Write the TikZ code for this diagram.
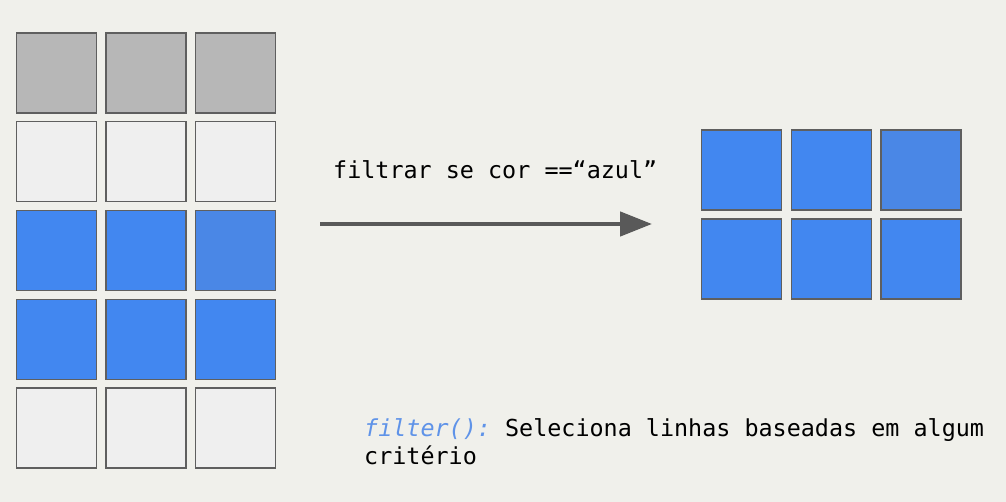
\documentclass[tikz,border=0pt]{standalone}
\usepackage{fontspec}
\setmonofont{DejaVu Sans Mono}
\usetikzlibrary{arrows.meta}
\usetikzlibrary{positioning}

\definecolor{bgcol}{HTML}{F0F0EB}
\definecolor{edgecol}{HTML}{5F5F5F}
\definecolor{cgray}{HTML}{B7B7B7}
\definecolor{clight}{HTML}{EFEFEF}
\definecolor{cblue}{HTML}{4287F0}
\definecolor{cdark}{HTML}{4A87E6}
\definecolor{arrowcol}{HTML}{595959}
\definecolor{fncol}{HTML}{5F93E8}

\begin{document}
\begin{tikzpicture}[x=1pt, y=-1pt,
	cell/.style={draw=edgecol, line width=1.3pt, minimum size=80pt, inner sep=0pt},
	code/.style={font=\ttfamily\fontsize{23.4}{28}\selectfont, inner sep=0pt, anchor=base west}]
	\fill[bgcol] (0,0) rectangle (1006,502);
	\useasboundingbox (0,0) rectangle (1006,502);

	% original table
	\foreach \row/\fa/\fb/\fc in {1/cgray/cgray/cgray, 2/clight/clight/clight, 3/cblue/cblue/cdark, 4/cblue/cblue/cblue, 5/clight/clight/clight}{
		\foreach \col/\f in {1/\fa, 2/\fb, 3/\fc}{
			\draw ({56.5+89.5*(\col-1)}, {73+88.75*(\row-1)}) node[cell, fill=\f] (L\row\col) {};
		}
	}

	% filtered table
	\foreach \row/\fa/\fb/\fc in {1/cblue/cblue/cdark, 2/cblue/cblue/cblue}{
		\foreach \col/\f in {1/\fa, 2/\fb, 3/\fc}{
			\draw ({741.5+89.7*(\col-1)}, {170+89*(\row-1)}) node[cell, fill=\f] (R\row\col) {};
		}
	}

	\coordinate (from) at (320,224);
	\coordinate (to) at (652,224);
	\draw[arrowcol, line width=4.5pt, -{Triangle[length=32pt, width=24pt]}] (from) -- (to);

	\node[code] (rule) at (333,179) {filtrar se cor ==“azul”};
	\node[code] (desc) at (364,436) {\textcolor{fncol}{\itshape filter():} Seleciona linhas baseadas em algum};
	\node[code] (desc2) at ([yshift=-28pt]desc.base west) {critério};
\end{tikzpicture}
\end{document}
